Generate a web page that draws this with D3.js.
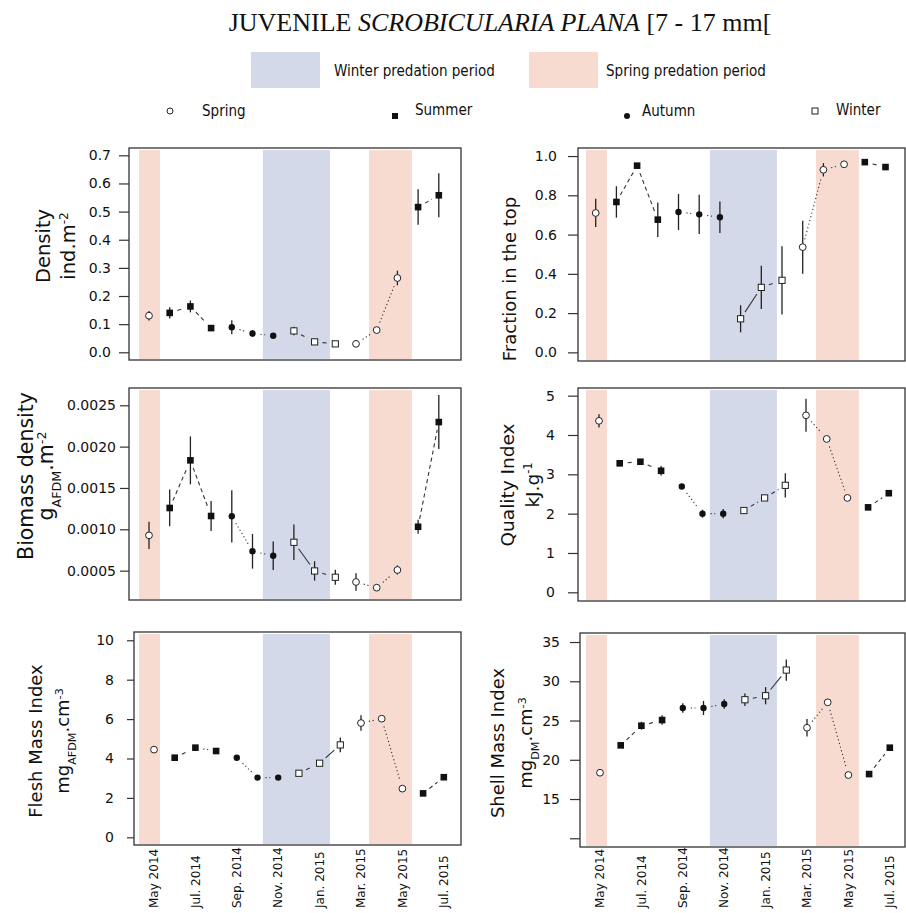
<!DOCTYPE html>
<html><head><meta charset="utf-8">
<script src="https://cdn.jsdelivr.net/npm/d3@7"></script>
<style>body{margin:0;background:#fff}</style>
</head><body>
<svg id="c" width="906" height="913" xmlns="http://www.w3.org/2000/svg"></svg>
<script>
// ---------------- data ----------------
const sampleIdx = d3.range(15);
const seasons = ['Spring','Summer','Summer','Summer','Autumn','Autumn','Autumn','Winter','Winter','Winter','Spring','Spring','Spring','Summer','Summer'];
const monthLabels = ['May 2014','Jul. 2014','Sep. 2014','Nov. 2014','Jan. 2015','Mar. 2015','May 2015','Jul. 2015'];
const monthLabelIdx = [0,2,4,6,8,10,12,14];

// predation periods, in sample-index units
const springPeriods = [[-0.48,0.53],[10.63,12.7]];
const winterPeriods = [[5.5,8.74]];

const densityVal = [0.130,0.140,0.163,0.086,0.089,0.067,0.059,0.076,0.037,0.030,0.030,0.079,0.264,0.516,0.558];
const densityErr = [0.017,0.020,0.021,0.006,0.025,0.012,0.005,0.015,0.008,0.005,0.005,0.008,0.026,0.063,0.078];
const densityLines = ['','dash','dash','','dot','dot','','dash','dash','','dot','dot','','dash'];
const densityTicks = [0,0.1,0.2,0.3,0.4,0.5,0.6,0.7];
const densityLim = [-0.0274,0.726];

const fractionVal = [0.710,0.766,0.951,0.676,0.715,0.703,0.688,0.171,0.331,0.367,0.536,0.930,0.958,0.969,0.944];
const fractionErr = [0.072,0.080,0.012,0.088,0.092,0.100,0.080,0.069,0.110,0.174,0.135,0.034,0.010,0.008,0.008];
const fractionLines = ['','dash','dash','','dot','dot','','solid','dash','','dot','dot','','dash'];
const fractionTicks = [0,0.2,0.4,0.6,0.8,1.0];
const fractionLim = [-0.044,1.041];

const biomassVal = [0.000927,0.001258,0.001834,0.001161,0.001157,0.000734,0.000681,0.000843,0.000496,0.000420,0.000363,0.000294,0.000508,0.001031,0.002297];
const biomassErr = [0.000165,0.000222,0.000290,0.000180,0.000316,0.000210,0.000173,0.000215,0.000117,0.000090,0.000105,0.000030,0.000056,0.000085,0.000327];
const biomassLines = ['','dash','dash','','dot','dot','','solid','dash','','dot','dot','','dash'];
const biomassTicks = [0.0005,0.0010,0.0015,0.0020,0.0025];
const biomassLim = [0.000145,0.002709];

const qualityVal = [4.36,3.28,3.32,3.09,2.69,2.00,2.00,2.08,2.40,2.72,4.50,3.90,2.40,2.16,2.52];
const qualityErr = [0.17,0.05,0.05,0.12,0.05,0.10,0.12,0.05,0.05,0.31,0.42,0.06,0.05,0.05,0.05];
const qualityLines = ['','dash','dash','','dot','dot','','dash','dash','','dot','dot','','dash'];
const qualityTicks = [0,1,2,3,4,5];
const qualityLim = [-0.221,5.195];

const fleshVal = [4.45,4.04,4.55,4.38,4.04,3.03,3.03,3.25,3.76,4.69,5.80,6.02,2.47,2.23,3.05];
const fleshErr = [0.08,0.08,0.10,0.15,0.08,0.08,0.08,0.08,0.10,0.37,0.39,0.10,0.08,0.05,0.05];
const fleshLines = ['','dash','dot','','dot','dot','','dash','solid','','dot','dot','','dash'];
const fleshTicks = [0,2,4,6,8,10];
const fleshLim = [-0.39,10.42];

const shellVal = [18.35,21.84,24.34,25.06,26.6,26.6,27.1,27.65,28.16,31.43,24.08,27.32,18.06,18.18,21.54];
const shellErr = [0.3,0.3,0.5,0.6,0.6,0.9,0.6,0.8,1.1,1.36,1.1,0.3,0.3,0.3,0.3];
const shellLines = ['','dash','dash','','dot','dot','','dash','solid','','dot','dot','','dash'];
const shellTicks = [10,15,20,25,30,35];
const shellTickLabels = ['','15','20','25','30','35'];
const shellLim = [8.89,36.15];

// ---------------- layout ----------------
const svg = d3.select('#c');
const BLUE = '#d3d9e8', PINK = '#f8dbd0';
const SANS = "'DejaVu Sans', sans-serif";
const COND = "'DejaVu Sans Condensed', 'DejaVu Sans', sans-serif";

const panels = [
  {val:densityVal, err:densityErr, lines:densityLines, ticks:densityTicks, lim:densityLim, fmt:d3.format('.1f'),
   box:[129,148,461,360], x0:149, bandRef:149, tickLen:10, tickPad:8,
   title:{fs:19.5, cy:246, x1:50, x2:75, l1:[['Density','']], l2:[['ind.m',''],['-2','sup']]}},
  {val:fractionVal, err:fractionErr, lines:fractionLines, ticks:fractionTicks, lim:fractionLim, fmt:d3.format('.1f'),
   box:[578,148,905,361], x0:595.7, bandRef:596, tickLen:10, tickPad:11,
   title:{fs:18, cy:279, x1:516, l1:[['Fraction in the top','']]}},
  {val:biomassVal, err:biomassErr, lines:biomassLines, ticks:biomassTicks, lim:biomassLim, fmt:d3.format('.4f'),
   box:[129,388,461,600], x0:149, bandRef:149, tickLen:9, tickPad:4,
   title:{fs:20.5, cy:476, x1:33, x2:53, l1:[['Biomass density','']], l2:[['g',''],['AFDM','sub'],['.m',''],['-2','sup']]}},
  {val:qualityVal, err:qualityErr, lines:qualityLines, ticks:qualityTicks, lim:qualityLim, fmt:d3.format('d'),
   box:[578,388,905,601], x0:599, bandRef:596, tickLen:10, tickPad:13,
   title:{fs:18.5, cy:485, x1:514, x2:539, l1:[['Quality Index','']], l2:[['kJ.g',''],['-1','sup']]}},
  {val:fleshVal, err:fleshErr, lines:fleshLines, ticks:fleshTicks, lim:fleshLim, fmt:d3.format('d'),
   box:[134,632,461,845], x0:154, bandRef:149, tickLen:7, tickPad:13, xlab:true,
   title:{fs:18, cy:741, x1:42, x2:69, l1:[['Flesh Mass Index','']], l2:[['mg',''],['AFDM','sub'],['.cm',''],['-3','sup']]}},
  {val:shellVal, err:shellErr, lines:shellLines, ticks:shellTicks, lim:shellLim, fmt:(d,i)=>shellTickLabels[i],
   box:[580,633,905,847], x0:600, bandRef:596, tickLen:10, tickPad:10, xlab:true,
   title:{fs:18, cy:743, x1:504, x2:532, l1:[['Shell Mass Index','']], l2:[['mg',''],['DM','sub'],['.cm',''],['-3','sup']]}}
];
const STEP = 20.7;

function addRich(textSel, parts, fs){
  parts.forEach(([t,kind])=>{
    const ts = textSel.append('tspan').text(t);
    if(kind==='sup'){ ts.attr('font-size', fs*0.62).attr('baseline-shift','super'); }
    if(kind==='sub'){ ts.attr('font-size', fs*0.62).attr('baseline-shift','sub'); }
  });
}

panels.forEach(p=>{
  const [bx0,by0,bx1,by1] = p.box;
  const g = svg.append('g');
  const x = d3.scaleLinear().domain([0,14]).range([p.x0, p.x0 + STEP*14]);
  const xb = d3.scaleLinear().domain([0,14]).range([p.bandRef, p.bandRef + STEP*14]);
  const y = d3.scaleLinear().domain(p.lim).range([by1, by0]);

  // predation bands
  const bands = springPeriods.map(d=>({r:d,c:PINK})).concat(winterPeriods.map(d=>({r:d,c:BLUE})));
  g.selectAll('rect.band').data(bands).join('rect')
    .attr('x', d=>xb(d.r[0])).attr('width', d=>xb(d.r[1])-xb(d.r[0]))
    .attr('y', by0+2).attr('height', by1-by0-3).attr('fill', d=>d.c);

  // connecting segments (type "b": gaps near points)
  const GAP = 8;
  p.lines.forEach((st,i)=>{
    if(!st) return;
    const x1=x(i), y1=y(p.val[i]), x2=x(i+1), y2=y(p.val[i+1]);
    const dx=x2-x1, dy=y2-y1, L=Math.hypot(dx,dy);
    if(L<=2*GAP) return;
    const ux=dx/L, uy=dy/L;
    g.append('line')
      .attr('x1',x1+ux*GAP).attr('y1',y1+uy*GAP).attr('x2',x2-ux*GAP).attr('y2',y2-uy*GAP)
      .attr('stroke','#333').attr('stroke-width',1.1)
      .attr('stroke-dasharray', st==='dash'?'4,3.3':(st==='dot'?'1.2,2.6':null));
  });

  // error bars
  g.selectAll('line.err').data(sampleIdx).join('line')
    .attr('x1',i=>x(i)).attr('x2',i=>x(i))
    .attr('y1',i=>y(p.val[i]-p.err[i])).attr('y2',i=>y(p.val[i]+p.err[i]))
    .attr('stroke','#222').attr('stroke-width',1.3);

  // markers
  sampleIdx.forEach(i=>{
    const cx=x(i), cy=y(p.val[i]), s=seasons[i];
    if(s==='Spring') g.append('circle').attr('cx',cx).attr('cy',cy).attr('r',3.4).attr('fill','#fff').attr('stroke','#222').attr('stroke-width',1);
    else if(s==='Autumn') g.append('circle').attr('cx',cx).attr('cy',cy).attr('r',3.2).attr('fill','#111');
    else if(s==='Summer') g.append('rect').attr('x',cx-3.3).attr('y',cy-3.3).attr('width',6.6).attr('height',6.6).attr('fill','#111');
    else g.append('rect').attr('x',cx-3.1).attr('y',cy-3.1).attr('width',6.2).attr('height',6.2).attr('fill','#fff').attr('stroke','#222').attr('stroke-width',1);
  });

  // box
  g.append('rect').attr('x',bx0).attr('y',by0).attr('width',bx1-bx0).attr('height',by1-by0)
    .attr('fill','none').attr('stroke','#333').attr('stroke-width',1.3);

  // y axis
  const ax = g.append('g').attr('transform',`translate(${bx0},0)`)
    .call(d3.axisLeft(y).tickValues(p.ticks).tickFormat(p.fmt).tickSize(p.tickLen).tickPadding(p.tickPad));
  ax.select('.domain').remove();
  ax.selectAll('line').attr('stroke','#333').attr('stroke-width',1.2);
  ax.selectAll('text').attr('font-family',SANS).attr('font-size',14).attr('fill','#111');

  // y titles
  const t = p.title;
  const t1 = g.append('text').attr('transform',`translate(${t.x1},${t.cy}) rotate(-90)`)
    .attr('text-anchor','middle').attr('font-family',SANS).attr('font-size',t.fs).attr('fill','#111');
  addRich(t1, t.l1, t.fs);
  if(t.l2){
    const t2 = g.append('text').attr('transform',`translate(${t.x2},${t.cy}) rotate(-90)`)
      .attr('text-anchor','middle').attr('font-family',SANS).attr('font-size',t.fs).attr('fill','#111');
    addRich(t2, t.l2, t.fs);
  }

  // x labels
  if(p.xlab){
    g.selectAll('text.xl').data(monthLabelIdx).join('text')
      .attr('transform',i=>`translate(${x(i)},908) rotate(-90)`)
      .attr('dy','0.35em').attr('text-anchor','start')
      .attr('font-family',SANS).attr('font-size',12).attr('fill','#111')
      .text((d,k)=>monthLabels[k]);
  }
});

// ---------------- title & legends ----------------
const title = svg.append('text').attr('x',500).attr('y',31).attr('text-anchor','middle')
  .attr('font-family',"'Liberation Serif','Times New Roman',serif").attr('font-size',26).attr('fill','#111');
title.append('tspan').text('JUVENILE ');
title.append('tspan').attr('font-style','italic').text('SCROBICULARIA PLANA');
title.append('tspan').text(' [7 - 17 mm[');

const periodLegend = [
  {label:'Winter predation period', color:BLUE, x:251, tx:334},
  {label:'Spring predation period', color:PINK, x:529, tx:606}
];
periodLegend.forEach(d=>{
  svg.append('rect').attr('x',d.x).attr('y',52).attr('width',69).attr('height',36).attr('fill',d.color);
  svg.append('text').attr('x',d.tx).attr('y',76).attr('font-family',COND).attr('font-size',15).attr('fill','#111').text(d.label);
});

const seasonLegend = [
  {label:'Spring', sx:170, sy:111, tx:202, ty:116},
  {label:'Summer', sx:395, sy:116, tx:415, ty:115},
  {label:'Autumn', sx:627, sy:116, tx:642, ty:116},
  {label:'Winter', sx:815, sy:111, tx:836, ty:115}
];
seasonLegend.forEach(d=>{
  const s=d.label;
  if(s==='Spring') svg.append('circle').attr('cx',d.sx).attr('cy',d.sy).attr('r',3).attr('fill','#fff').attr('stroke','#222');
  else if(s==='Autumn') svg.append('circle').attr('cx',d.sx).attr('cy',d.sy).attr('r',3).attr('fill','#111');
  else if(s==='Summer') svg.append('rect').attr('x',d.sx-3).attr('y',d.sy-3).attr('width',6).attr('height',6).attr('fill','#111');
  else svg.append('rect').attr('x',d.sx-3).attr('y',d.sy-3).attr('width',6).attr('height',6).attr('fill','#fff').attr('stroke','#222');
  svg.append('text').attr('x',d.tx).attr('y',d.ty).attr('font-family',COND).attr('font-size',15).attr('fill','#111').text(s);
});
</script>
</body></html>
